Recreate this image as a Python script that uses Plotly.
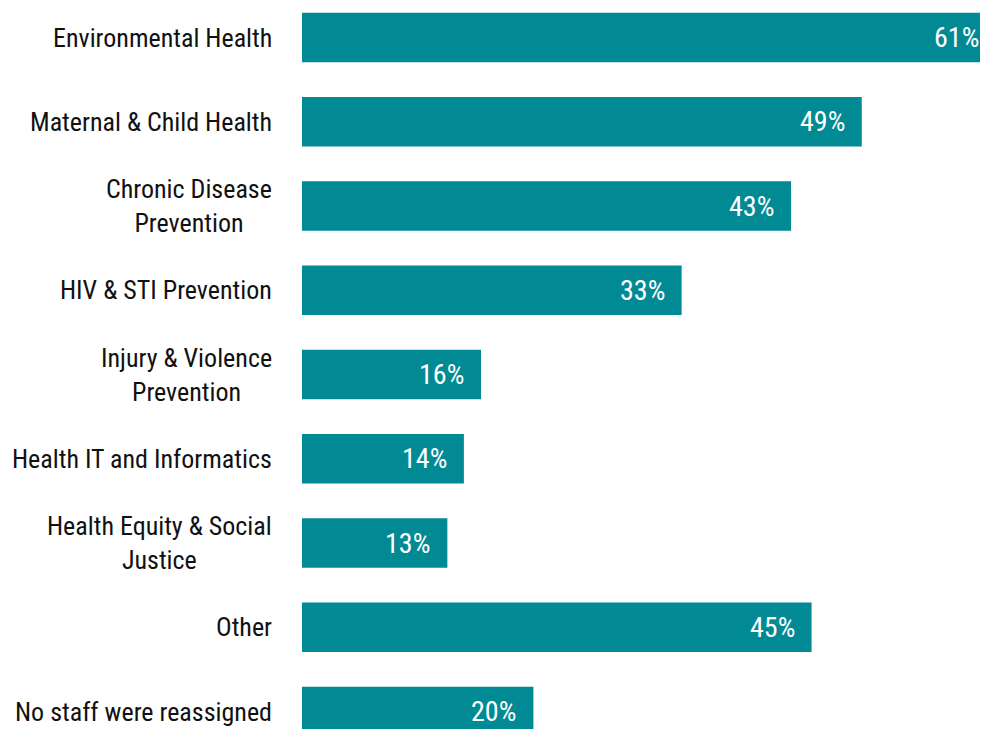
import plotly.graph_objects as go

categories = [
    "Environmental Health",
    "Maternal & Child Health",
    "Chronic Disease<br>Prevention",
    "HIV & STI Prevention",
    "Injury & Violence<br>Prevention",
    "Health IT and Informatics",
    "Health Equity & Social<br>Justice",
    "Other",
    "No staff were reassigned",
]
# bar lengths (percent)
values = [60.9, 49.1, 42.9, 33.3, 15.7, 14.2, 12.75, 44.7, 20.3]
value_labels = ["61%", "49%", "43%", "33%", "16%", "14%", "13%", "45%", "20%"]

BAR_COLOR = "#028A94"
FONT = "Roboto Condensed, Noto Sans Condensed, Liberation Sans Narrow, Arial Narrow, DejaVu Sans Condensed, sans-serif"

# page has an 8px body margin; figure offset accordingly
W, H = 980, 721
PX_PER_UNIT = 11.4
LEFT = 294
ROW = 84.25
FIRST_CENTER = 29.5

fig = go.Figure()
fig.add_trace(go.Bar(
    y=list(range(len(categories))),
    x=values,
    orientation="h",
    marker=dict(color=BAR_COLOR, line=dict(width=0)),
    width=0.585,
    hoverinfo="skip",
))

annotations = []
for i, (c, v, t) in enumerate(zip(categories, values, value_labels)):
    annotations.append(dict(
        x=0, xref="paper", y=i, yref="y", text=c, showarrow=False,
        xanchor="right", yanchor="middle", align="center", xshift=-28,
        font=dict(family=FONT, size=26, color="#111111"),
    ))
    # anchor at bar base (always in range); text placed at bar end via tail in data coords
    annotations.append(dict(
        x=0, xref="x", y=i, yref="y",
        ax=v, axref="x", ay=i, ayref="y",
        showarrow=True, arrowcolor="rgba(0,0,0,0)", arrowwidth=0.1,
        text=t, xanchor="right", yanchor="middle", xshift=-15,
        font=dict(family=FONT, size=28, color="white"),
    ))

fig.update_layout(
    width=W, height=H,
    margin=dict(l=LEFT, r=0, t=0, b=0, pad=0),
    paper_bgcolor="white", plot_bgcolor="white",
    showlegend=False,
    annotations=annotations,
    xaxis=dict(range=[0, (W - LEFT) / PX_PER_UNIT], visible=False, fixedrange=True),
    yaxis=dict(range=[(H - FIRST_CENTER) / ROW, -FIRST_CENTER / ROW], visible=False, fixedrange=True),
)

fig.write_html("out.html", config={"displayModeBar": False})
